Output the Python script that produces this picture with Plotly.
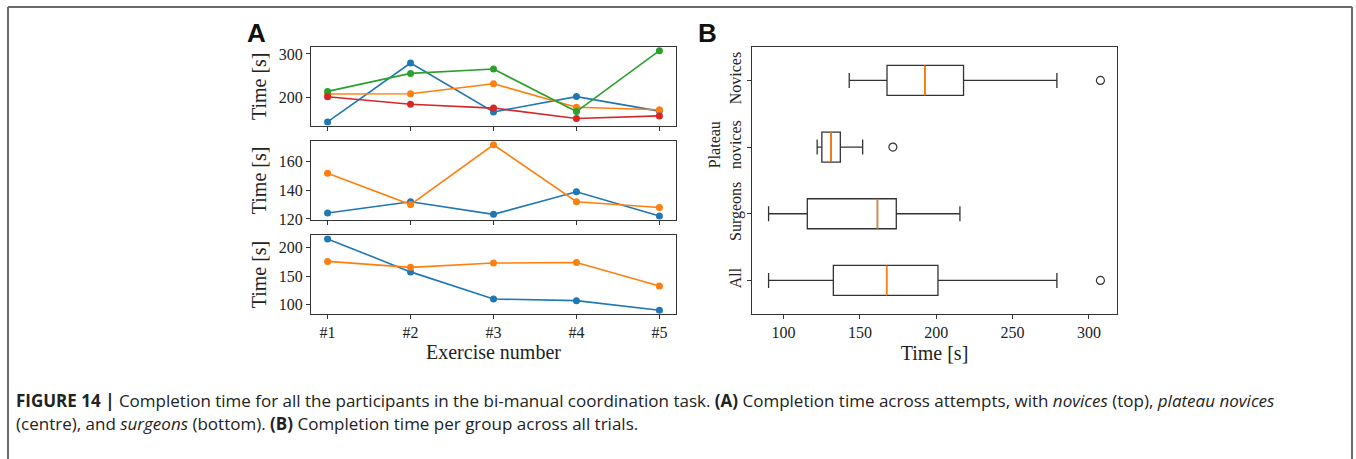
import numpy as np
import plotly.graph_objects as go

W, H = 1356, 459

# ---------------- data ----------------
exercises = [1, 2, 3, 4, 5]
exercise_labels = ["#1", "#2", "#3", "#4", "#5"]

novices_blue = [143, 279, 166, 201.5, 168]
novices_orange = [207.5, 208, 231, 177, 171]
novices_green = [213.5, 255, 265, 167, 307.5]
novices_red = [201, 184, 175, 151, 157]

plateau_blue = [124.1, 132, 123.2, 138.9, 122]
plateau_orange = [151.8, 130, 171.6, 132, 128]

surgeons_blue = [215.5, 157.5, 109.8, 106.9, 90.2]
surgeons_orange = [175.9, 165.5, 173, 174.1, 132.8]

group_labels = ["All", "Surgeons", "Plateau<br>novices", "Novices"]

colors = ["#1f77b4", "#ff7f0e", "#2ca02c", "#d62728"]

novices_all = novices_blue + novices_orange + novices_green + novices_red
plateau_all = plateau_blue + plateau_orange
surgeons_all = surgeons_blue + surgeons_orange
everyone = novices_all + plateau_all + surgeons_all
group_data = [everyone, surgeons_all, plateau_all, novices_all]
group_pos = [1, 2, 3, 4]

SERIF = "Liberation Serif"
SANS = "Liberation Sans"
CAPFONT = "Open Sans"
AX = "#333333"


def padded(vals, frac=0.05):
    lo, hi = min(vals), max(vals)
    m = (hi - lo) * frac
    return [lo - m, hi + m]


def px(x):
    return x / W


def py(y):
    return 1 - y / H


fig = go.Figure()

panelA = [
    ([novices_blue, novices_orange, novices_green, novices_red], "x", "y"),
    ([plateau_blue, plateau_orange], "x2", "y2"),
    ([surgeons_blue, surgeons_orange], "x3", "y3"),
]
for series, xa, ya in panelA:
    for i, s in enumerate(series):
        fig.add_trace(go.Scatter(
            x=exercises, y=s, mode="lines+markers", xaxis=xa, yaxis=ya,
            line=dict(color=colors[i], width=1.6),
            marker=dict(color=colors[i], size=7), showlegend=False))

# ---------------- panel B boxplots ----------------
q1s, meds, q3s, lows, highs = [], [], [], [], []
out_x, out_y = [], []
for d, p in zip(group_data, group_pos):
    a = np.array(d, dtype=float)
    q1, med, q3 = np.percentile(a, [25, 50, 75])
    iqr = q3 - q1
    lo = a[a >= q1 - 1.5 * iqr].min()
    hi = a[a <= q3 + 1.5 * iqr].max()
    q1s.append(q1); meds.append(med); q3s.append(q3); lows.append(lo); highs.append(hi)
    for v in a[(a < lo) | (a > hi)]:
        out_x.append(v); out_y.append(p)

box_w = 0.45
fig.add_trace(go.Box(
    y=group_pos, q1=q1s, median=meds, q3=q3s, lowerfence=lows, upperfence=highs,
    orientation="h", xaxis="x4", yaxis="y4", width=box_w, whiskerwidth=0.5,
    fillcolor="rgba(0,0,0,0)", line=dict(color="#333333", width=1.3),
    boxpoints=False, showlegend=False, hoverinfo="skip"))

mx, my = [], []
for m, p in zip(meds, group_pos):
    mx += [m, m, None]
    my += [p - box_w / 2, p + box_w / 2, None]
fig.add_trace(go.Scatter(x=mx, y=my, mode="lines", xaxis="x4", yaxis="y4",
                         line=dict(color="#ff7f0e", width=1.5), showlegend=False))
fig.add_trace(go.Scatter(x=out_x, y=out_y, mode="markers", xaxis="x4", yaxis="y4",
                         marker=dict(symbol="circle-open", color="#333333", size=8,
                                     line=dict(width=1.2)), showlegend=False))

# ---------------- axes ----------------
tickfont = dict(family=SERIF, size=16, color="#222222")
titlefont = dict(family=SERIF, size=20, color="#222222")
common = dict(showline=True, linecolor=AX, linewidth=1, mirror=True, ticks="outside",
              ticklen=4, tickcolor=AX, showgrid=False, zeroline=False, tickfont=tickfont)

xA = [px(311), px(676)]
xrangeA = padded(exercises)
fig.update_layout(
    xaxis=dict(domain=xA, anchor="y", range=xrangeA, tickvals=exercises,
               showticklabels=False, **common),
    yaxis=dict(domain=[py(127), py(47)], anchor="x",
               range=padded(novices_all), dtick=100,
               title=dict(text="Time [s]", font=titlefont, standoff=6), **common),
    xaxis2=dict(domain=xA, anchor="y2", range=xrangeA, tickvals=exercises,
                showticklabels=False, **common),
    yaxis2=dict(domain=[py(223), py(143)], anchor="x2",
                range=padded(plateau_all), dtick=20,
                title=dict(text="Time [s]", font=titlefont, standoff=6), **common),
    xaxis3=dict(domain=xA, anchor="y3", range=xrangeA, tickvals=exercises,
                ticktext=exercise_labels,
                title=dict(text="Exercise number", font=titlefont, standoff=4), **common),
    yaxis3=dict(domain=[py(319), py(239)], anchor="x3",
                range=padded(surgeons_all), dtick=50,
                title=dict(text="Time [s]", font=titlefont, standoff=6), **common),
    xaxis4=dict(domain=[px(752), px(1117)], anchor="y4", range=padded(everyone),
                dtick=50, title=dict(text="Time [s]", font=titlefont, standoff=6), **common),
    yaxis4=dict(domain=[py(319), py(47)], anchor="x4", range=[0.5, 4.5],
                tickvals=group_pos, ticktext=group_labels, tickangle=-90, **common),
)

fig.update_layout(
    width=W, height=H, margin=dict(l=0, r=0, t=0, b=0),
    paper_bgcolor="white", plot_bgcolor="white", showlegend=False,
)

# frame around the figure (open at the bottom)
for x0, y0, x1, y1 in [(8, 6, 1352, 6), (8, 6, 8, 470), (1352, 6, 1352, 470)]:
    fig.add_shape(type="line", xref="paper", yref="paper",
                  x0=px(x0), y0=py(y0), x1=px(x1), y1=py(y1),
                  line=dict(color="#6a6a6a", width=2))

# panel letters
fig.add_annotation(x=px(245), y=py(33), xref="paper", yref="paper", text="<b>A</b>",
                   showarrow=False, xanchor="left", yanchor="middle",
                   font=dict(family=SANS, size=26, color="#111111"))
fig.add_annotation(x=px(696), y=py(33), xref="paper", yref="paper", text="<b>B</b>",
                   showarrow=False, xanchor="left", yanchor="middle",
                   font=dict(family=SANS, size=26, color="#111111"))

caption1 = ("<b>FIGURE 14 |</b> Completion time for all the participants in the bi-manual "
            "coordination task. <b>(A)</b> Completion time across attempts, with "
            "<i>novices</i> (top), <i>plateau novices</i>")
caption2 = ("(centre), and <i>surgeons</i> (bottom). <b>(B)</b> Completion time per group "
            "across all trials.")
fig.add_annotation(x=px(14), y=py(407), xref="paper", yref="paper", text=caption1,
                   showarrow=False, xanchor="left", yanchor="middle",
                   font=dict(family=CAPFONT, size=17, color="#222222"))
fig.add_annotation(x=px(14), y=py(431), xref="paper", yref="paper", text=caption2,
                   showarrow=False, xanchor="left", yanchor="middle",
                   font=dict(family=CAPFONT, size=17, color="#222222"))

fig.write_html("out.html")
